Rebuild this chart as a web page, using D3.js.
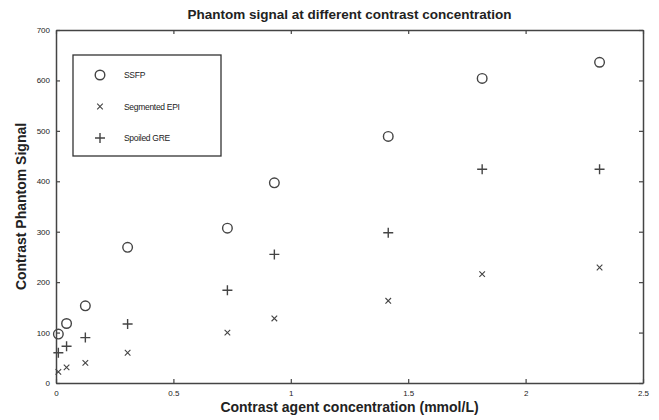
<!DOCTYPE html>
<html>
<head>
<meta charset="utf-8">
<script src="https://cdn.jsdelivr.net/npm/d3@7"></script>
<style>
  body { margin: 0; background: #fff; }
  text { font-family: "Liberation Sans", Arial, sans-serif; fill: #222; }
</style>
</head>
<body>
<svg id="chart" width="659" height="420"></svg>
<script>
// concentration (mmol/L)
const conc = [0.01, 0.045, 0.125, 0.305, 0.73, 0.93, 1.415, 1.815, 2.315];
const ssfp = [97, 118, 153, 269, 307, 397, 489, 604, 636];
const segEpi = [22, 31, 40, 60, 100, 128, 163, 216, 229];
const spoiledGre = [60, 73, 90, 117, 184, 255, 298, 424, 424];
const xTicks = [0, 0.5, 1, 1.5, 2, 2.5];
const yTicks = [0, 100, 200, 300, 400, 500, 600, 700];
const seriesNames = ['SSFP', 'Segmented EPI', 'Spoiled GRE'];

const margin = { top: 30, right: 16, bottom: 37, left: 56 };
const width = 659 - margin.left - margin.right;
const height = 420 - margin.top - margin.bottom;

const svg = d3.select('#chart');
const g = svg.append('g').attr('transform', `translate(${margin.left},${margin.top})`);

const x = d3.scaleLinear().domain([0, 2.5]).range([0, width]);
const y = d3.scaleLinear().domain([0, 700]).range([height, 0]);

const axisColor = '#444';

// box axes, ticks inward
const fmt = d => (d === 0 ? '0' : String(d));
g.append('g')
  .attr('transform', `translate(0,${height})`)
  .call(d3.axisBottom(x).tickValues(xTicks).tickSizeInner(-4).tickSizeOuter(0).tickPadding(7).tickFormat(fmt));
g.append('g')
  .call(d3.axisTop(x).tickValues(xTicks).tickSizeInner(-4).tickSizeOuter(0).tickFormat(''));
g.append('g')
  .call(d3.axisLeft(y).tickValues(yTicks).tickSizeInner(-4).tickSizeOuter(0).tickPadding(6));
g.append('g')
  .attr('transform', `translate(${width},0)`)
  .call(d3.axisRight(y).tickValues(yTicks).tickSizeInner(-4).tickSizeOuter(0).tickFormat(''));

g.selectAll('.domain').attr('stroke', axisColor).attr('stroke-width', 1.5);
g.selectAll('.tick line').attr('stroke', axisColor).attr('stroke-width', 1.2);
g.selectAll('.tick text').attr('font-size', 8).attr('fill', '#444');

// markers
const symbols = {
  circle: sel => sel.append('circle').attr('r', 4.8).attr('fill', 'none'),
  cross: sel => sel.append('path').attr('d', 'M-2.8,-2.8L2.8,2.8M-2.8,2.8L2.8,-2.8'),
  plus: sel => sel.append('path').attr('d', 'M-5,0H5M0,-5V5'),
};
const series = [
  { name: seriesNames[0], values: ssfp, sym: 'circle' },
  { name: seriesNames[1], values: segEpi, sym: 'cross' },
  { name: seriesNames[2], values: spoiledGre, sym: 'plus' },
];

series.forEach(s => {
  const pts = g.append('g')
    .selectAll('g')
    .data(conc.map((c, i) => ({ c, v: s.values[i] })))
    .join('g')
    .attr('transform', d => `translate(${x(d.c)},${y(d.v)})`);
  symbols[s.sym](pts);
  pts.selectAll('circle, path').attr('stroke', '#444').attr('stroke-width', s.sym === 'cross' ? 1.1 : 1.4);
});

// legend
const leg = g.append('g').attr('transform', 'translate(17,25)');
leg.append('rect')
  .attr('width', 148).attr('height', 101)
  .attr('fill', '#fff').attr('stroke', '#333').attr('stroke-width', 1.3);
series.forEach((s, i) => {
  const row = leg.append('g').attr('transform', `translate(27,${20 + i * 31.5})`);
  symbols[s.sym](row);
  row.selectAll('circle, path').attr('stroke', '#444').attr('stroke-width', s.sym === 'cross' ? 1.1 : 1.4);
  row.append('text').attr('x', 24).attr('y', 3).attr('font-size', 8.5).attr('letter-spacing', -0.3).text(s.name);
});

// title and labels
svg.append('text')
  .attr('x', margin.left + width / 2).attr('y', 19)
  .attr('text-anchor', 'middle').attr('font-size', 13.5).attr('font-weight', 'bold')
  .text('Phantom signal at different contrast concentration');
svg.append('text')
  .attr('x', margin.left + width / 2).attr('y', 412)
  .attr('text-anchor', 'middle').attr('font-size', 14).attr('font-weight', 'bold')
  .text('Contrast agent concentration (mmol/L)');
svg.append('text')
  .attr('transform', `translate(26,${margin.top + height / 2}) rotate(-90)`)
  .attr('text-anchor', 'middle').attr('font-size', 14).attr('font-weight', 'bold')
  .text('Contrast Phantom Signal');
</script>
</body>
</html>
